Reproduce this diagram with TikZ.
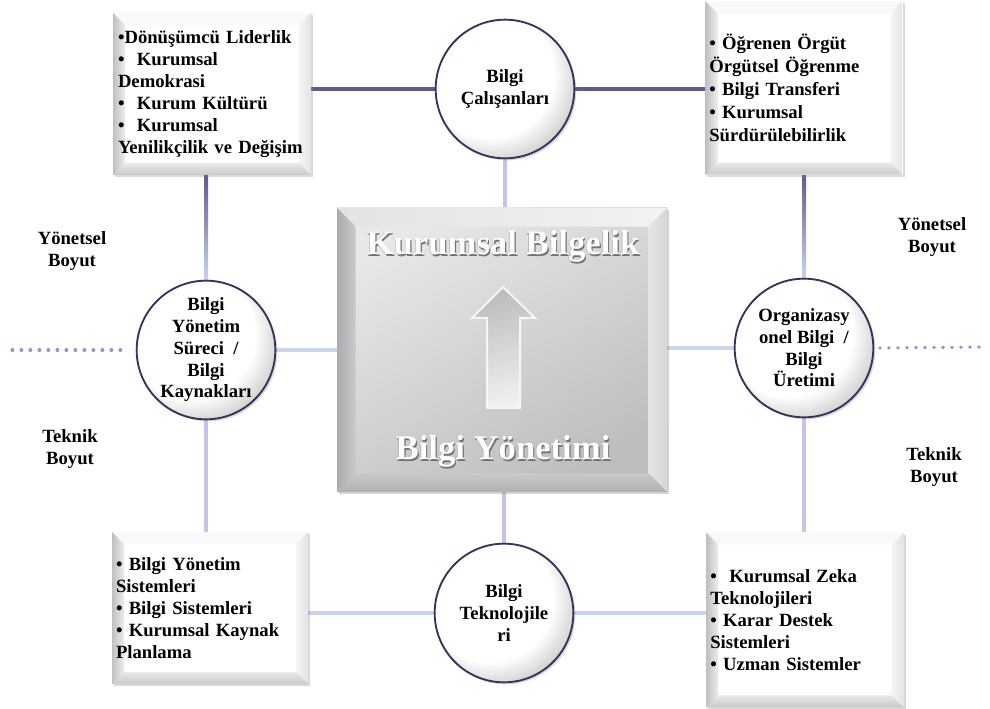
\documentclass[tikz,border=0pt]{standalone}
\usepackage{fontspec}
\setmainfont{Liberation Serif}
\usetikzlibrary{positioning, calc, shadows, backgrounds}

\definecolor{linkpurple}{HTML}{66588F}
\definecolor{linkblue}{HTML}{C8D4F0}
\definecolor{linklav}{HTML}{C2C5E7}
\definecolor{ringpurple}{HTML}{3E2F5C}
\definecolor{dotblue}{HTML}{8E9AC2}

% white ball look of the circles, light from the upper left
\pgfdeclareradialshading{topicshade}{\pgfpoint{-10bp}{10bp}}{%
  color(0bp)=(white); color(23bp)=(white); color(31bp)=(black!19); color(50bp)=(black!19)}

% white title with a dark halo
\newcommand{\glowtext}[1]{%
  \makebox[0pt][l]{\kern0.9pt\raisebox{-0.9pt}{\textcolor{black!55}{#1}}}%
  \makebox[0pt][l]{\kern-0.5pt\raisebox{0.4pt}{\textcolor{black!30}{#1}}}%
  #1}

% bevel faces for the white boxes
\newcommand{\whitebevel}{%
  \coordinate (bsw) at (path picture bounding box.south west);
  \coordinate (bne) at (path picture bounding box.north east);
  \coordinate (bnw) at (bsw |- bne);
  \coordinate (bse) at (bne |- bsw);
  \coordinate (isw) at ($(bsw)+(9pt,9pt)$);
  \coordinate (ine) at ($(bne)+(-9pt,-9pt)$);
  \coordinate (inw) at (isw |- ine);
  \coordinate (ise) at (ine |- isw);
  \fill[gray!5] (bnw) -- (bne) -- (ine) -- (inw) -- cycle;
  \shade[left color=gray!8, right color=gray!22] (bne) -- (bse) -- (ise) -- (ine) -- cycle;
  \shade[top color=gray!18, bottom color=gray!42] (bse) -- (bsw) -- (isw) -- (ise) -- cycle;
  \shade[left color=gray!50, right color=gray!14] (bsw) -- (bnw) -- (inw) -- (isw) -- cycle;
}
% bevel faces for the grey centre box
\newcommand{\graybevel}{%
  \coordinate (bsw) at (path picture bounding box.south west);
  \coordinate (bne) at (path picture bounding box.north east);
  \coordinate (bnw) at (bsw |- bne);
  \coordinate (bse) at (bne |- bsw);
  \coordinate (isw) at ($(bsw)+(14pt,14pt)$);
  \coordinate (ine) at ($(bne)+(-14pt,-14pt)$);
  \coordinate (inw) at (isw |- ine);
  \coordinate (ise) at (ine |- isw);
  \shade[left color=gray!22, right color=gray!10] (bnw) -- (bne) -- (ine) -- (inw) -- cycle;
  \shade[left color=gray!20, right color=gray!32] (bne) -- (bse) -- (ise) -- (ine) -- cycle;
  \shade[top color=gray!42, bottom color=gray!62] (bse) -- (bsw) -- (isw) -- (ise) -- cycle;
  \shade[left color=gray!65, right color=gray!42] (bsw) -- (bnw) -- (inw) -- (isw) -- cycle;
}

\begin{document}
\begin{tikzpicture}[
        x=0.75pt, y=-0.75pt,
        infobox/.style={rectangle, fill=white, align=left, inner xsep=3pt, text width=141pt,
            font=\fontsize{14}{16.5}\selectfont\bfseries,
            drop shadow={opacity=0.3, shadow xshift=1.5pt, shadow yshift=-1.5pt},
            path picture={\whitebevel}},
        topic/.style={circle, draw=ringpurple, line width=1.4pt, minimum size=104pt, inner sep=0pt,
            shade, shading=topicshade, align=center,
            font=\fontsize{14}{16.3}\selectfont\bfseries,
            drop shadow={opacity=0.3, shadow xshift=1.5pt, shadow yshift=-1.5pt}},
        core/.style={rectangle, minimum width=247.5pt, minimum height=213pt,
            top color=gray!18, bottom color=gray!52, shading angle=30,
            drop shadow={opacity=0.35, shadow xshift=1.5pt, shadow yshift=-1.5pt},
            path picture={\graybevel}},
        title/.style={font=\fontsize{26}{30}\selectfont\bfseries, text=white},
        dimlabel/.style={align=center, font=\fontsize{14}{16.5}\selectfont\bfseries},
        linkdark/.style={line width=3pt, linkpurple},
        link/.style={line width=3pt, linkblue},
        linklight/.style={line width=3pt, linklav},
        dotline/.style={line width=2.3pt, dotblue, line cap=round, dash pattern=on 0.6pt off 6.15pt},
        arrowshape/.style={draw=gray!7, line width=1.5pt, top color=gray!52, bottom color=gray!12,
            shading angle=15},
        ]
        \useasboundingbox (0,0) rectangle (990,709);

        % Centre box
        \node[core] (cb) at (502,350) {};

        % Circles
        \node[topic] (tc) at (505,89) {Bilgi\\Çalışanları};
        \node[topic] (lc) at (206,350) {Bilgi\\Yönetim\\Süreci~~/\\Bilgi\\Kaynakları};
        \node[topic] (rc) at (804,348) {Organizasy\\onel Bilgi~~/\\Bilgi\\Üretimi};
        \node[topic] (bc) at (504,613) {Bilgi\\Teknolojile\\ri};

        % Corner boxes
        \node[infobox, minimum width=148.5pt, minimum height=121.5pt] (tl) at (212,94)
            {•Dönüşümcü Liderlik\\•~~Kurumsal\\Demokrasi\\•~~Kurum Kültürü\\•~~Kurumsal\\Yenilikçilik ve Değişim};
        \node[infobox, minimum width=147pt, minimum height=130pt, text width=142pt,
            font=\fontsize{14}{17.2}\selectfont\bfseries] (tr) at (804,88)
            {• Öğrenen Örgüt\\Örgütsel Öğrenme\\• Bilgi Transferi\\• Kurumsal\\Sürdürülebilirlik};
        \node[infobox, minimum width=146pt, minimum height=114pt] (bl) at (210,608)
            {• Bilgi Yönetim\\Sistemleri\\• Bilgi Sistemleri\\• Kurumsal Kaynak\\Planlama};
        \node[infobox, minimum width=147pt, minimum height=131pt, text width=142pt] (br) at (805,620)
            {•~~Kurumsal Zeka\\Teknolojileri\\• Karar Destek\\Sistemleri\\• Uzman Sistemler};

        % Titles and arrow in the centre
        \node[title] (kb) at (503,247) {\glowtext{Kurumsal Bilgelik}};
        \node[title] (by) at (503,452) {\glowtext{Bilgi Yönetimi}};
        \path[arrowshape] (503,287) -- (535,318) -- (520,318) -- (520,408)
            -- (487,408) -- (487,318) -- (472,318) -- cycle;

        % Dimension labels
        \node[dimlabel] (ly) at (72,251) {Yönetsel\\Boyut};
        \node[dimlabel] (lt) at (70,449) {Teknik\\Boyut};
        \node[dimlabel] (ry) at (932,237) {Yönetsel\\Boyut};
        \node[dimlabel] (rt) at (934,467) {Teknik\\Boyut};

        \coordinate (ldot) at (12,350);
        \coordinate (rdot) at (986,347);

        % Connectors
        \begin{scope}[on background layer]
            \draw[linkdark] (tl.east |- tc.west) -- (tc.west);
            \draw[linkdark] (tc.east) -- (tr.west |- tc.east);
            \shade[top color=linkpurple, bottom color=linkblue]
                ($(lc.north |- tl.south)+(-2,0)$) rectangle ($(lc.north)+(2,0)$);
            \shade[top color=linkpurple, bottom color=linkblue]
                ($(rc.north |- tr.south)+(-2,0)$) rectangle ($(rc.north)+(2,0)$);
            \draw[linklight] (tc.south) -- (tc.south |- cb.north);
            \draw[linklight] (cb.south -| bc.north) -- (bc.north);
            \draw[link] (lc.east) -- (lc.east -| cb.west);
            \draw[link] (rc.west) -- (rc.west -| cb.east);
            \draw[linklight] (lc.south) -- (lc.south |- bl.north);
            \draw[linklight] (rc.south) -- (rc.south |- br.north);
            \draw[link] (bc.west) -- (bc.west -| bl.east);
            \draw[link] (bc.east) -- (bc.east -| br.west);
        \end{scope}
        \draw[dotline] (ldot) -- ([xshift=-8pt]lc.west);
        \draw[dotline] ([xshift=4pt]rc.east) -- (rdot);

\end{tikzpicture}
\end{document}
